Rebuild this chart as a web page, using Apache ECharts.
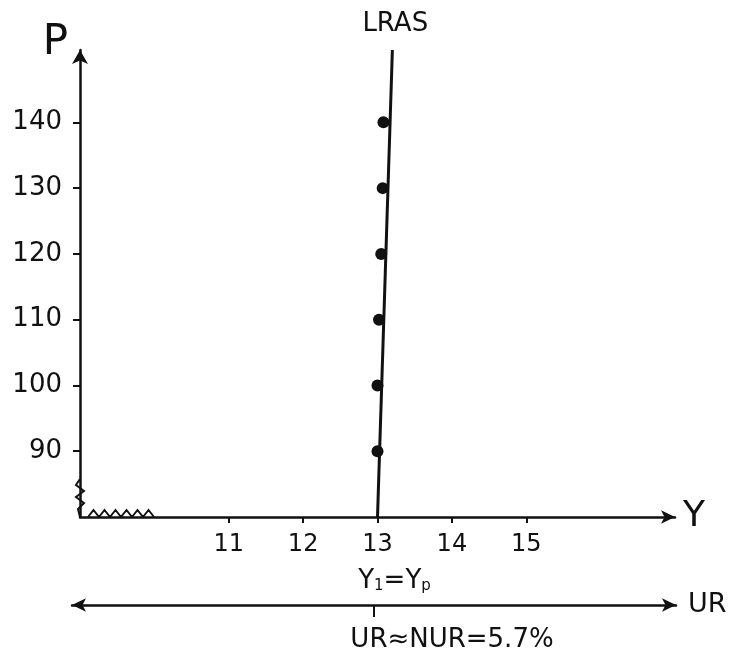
<!DOCTYPE html>
<html><head><meta charset="utf-8">
<script src="https://cdn.jsdelivr.net/npm/echarts@6/dist/echarts.min.js"></script>
<style>html,body{margin:0;padding:0;background:#fff}#c{width:750px;height:650px}</style>
</head><body><div id="c"></div>
<script>
// ---- data ----
const yTicks = [90, 100, 110, 120, 130, 140];
const xTicks = [11, 12, 13, 14, 15];
const lrasX = [13, 13.2];
const lrasP = [80, 151];
const dotsX = [13.0, 13.0, 13.02, 13.05, 13.07, 13.08];
const dotsP = [90, 100, 110, 120, 130, 140];
const urTicks = [13];
const urText = 'UR≈NUR=5.7%';

const ink = '#111';
const font = 'DejaVu Sans';
const chart = echarts.init(document.getElementById('c'));

const option = {
  backgroundColor: '#fff',
  animation: false,
  grid: [
    { left: 80, top: 50, width: 595, height: 467 },
    { left: 72, top: 595, width: 604, height: 10 }
  ],
  xAxis: [
    {
      gridIndex: 0, type: 'value', min: 9, max: 17,
      name: 'Y', nameLocation: 'end', nameGap: 8,
      nameTextStyle: { color: ink, fontSize: 36, fontFamily: font, verticalAlign: 'middle', padding: [4, 0, 0, 0] },
      axisLine: { show: true, symbol: ['none', 'arrow'], symbolSize: [10, 14], lineStyle: { color: ink, width: 2.5 } },
      axisTick: { show: true, customValues: xTicks, length: 6, inside: false, lineStyle: { color: ink, width: 2 } },
      axisLabel: { show: true, customValues: xTicks, margin: 16, color: ink, fontSize: 24, fontFamily: font },
      splitLine: { show: false }
    },
    {
      gridIndex: 1, type: 'value', min: 9, max: 17,
      name: 'UR', nameLocation: 'end', nameGap: 12,
      nameTextStyle: { color: ink, fontSize: 27, fontFamily: font, verticalAlign: 'middle' },
      axisLine: { show: true, symbol: ['arrow', 'arrow'], symbolSize: [10, 14], lineStyle: { color: ink, width: 2.5 } },
      axisTick: { show: true, customValues: urTicks, length: 12, inside: false, lineStyle: { color: ink, width: 2 } },
      axisLabel: { show: false },
      splitLine: { show: false }
    }
  ],
  yAxis: [
    {
      gridIndex: 0, type: 'value', min: 80, max: 151,
      name: 'P', nameLocation: 'end', nameGap: -14,
      nameTextStyle: { color: ink, fontSize: 42, fontFamily: font, align: 'right', padding: [0, 12, 0, 0] },
      axisLine: { show: true, symbol: ['none', 'arrow'], symbolSize: [12, 14], lineStyle: { color: ink, width: 2.5 } },
      axisTick: { show: true, customValues: yTicks, length: 7, lineStyle: { color: ink, width: 2 } },
      axisLabel: { show: true, customValues: yTicks, margin: 18, color: ink, fontSize: 26, fontFamily: font },
      splitLine: { show: false }
    },
    { gridIndex: 1, type: 'value', min: 0, max: 1, show: false }
  ],
  series: [
    {
      name: 'LRAS', type: 'line', xAxisIndex: 0, yAxisIndex: 0,
      data: lrasX.map((x, i) => [x, lrasP[i]]),
      symbol: 'none', lineStyle: { color: ink, width: 3 },
      endLabel: { show: true, formatter: 'LRAS', color: ink, fontSize: 26, fontFamily: font, offset: [-38, -26] }
    },
    {
      name: 'points', type: 'scatter', xAxisIndex: 0, yAxisIndex: 0,
      data: dotsX.map((x, i) => [x, dotsP[i]]),
      symbol: 'circle', symbolSize: 12, itemStyle: { color: ink, opacity: 1 }
    },
    { type: 'line', xAxisIndex: 1, yAxisIndex: 1, data: [], silent: true }
  ]
};
chart.setOption(option);

// annotations: axis break squiggles and natural-rate labels
const o = chart.convertToPixel({ gridIndex: 0 }, [9, 80]);
const t13 = chart.convertToPixel({ gridIndex: 0 }, [13, 80]);
const u13 = chart.convertToPixel({ gridIndex: 1 }, [13, 0]);
const zigX = [];
for (let k = 0; k <= 12; k++) zigX.push([o[0] + 8 + k * 5.5, o[1] - (k % 2 ? 7 : 0)]);
const zigY = [[o[0], o[1] - 38], [o[0] - 4, o[1] - 32], [o[0] + 4, o[1] - 26], [o[0] - 4, o[1] - 20], [o[0] + 4, o[1] - 14], [o[0] - 2, o[1] - 8], [o[0], o[1]]];
chart.setOption({
  graphic: [
    { type: 'rect', shape: { x: o[0] - 2, y: o[1] - 40, width: 5, height: 38 }, style: { fill: '#fff' } },
    { type: 'polyline', shape: { points: zigX }, style: { stroke: ink, lineWidth: 2, fill: null } },
    { type: 'polyline', shape: { points: zigY }, style: { stroke: ink, lineWidth: 2, fill: null } },
    {
      type: 'text', x: t13[0] + 17, y: u13[1] - 24,
      style: {
        text: '{a|Y}{s|1}{a|=Y}{s|p}', align: 'center', verticalAlign: 'middle',
        rich: {
          a: { font: '26px "DejaVu Sans"', fontSize: 26, fontFamily: font, fill: ink },
          s: { font: '15px "DejaVu Sans"', fontSize: 15, fontFamily: font, fill: ink, padding: [10, 0, 0, 0] }
        }
      }
    },
    {
      type: 'text', x: 452, y: u13[1] + 35,
      style: { text: urText, align: 'center', verticalAlign: 'middle', font: '26px "DejaVu Sans"', fontSize: 26, fontFamily: font, fill: ink }
    }
  ]
});
</script></body></html>
